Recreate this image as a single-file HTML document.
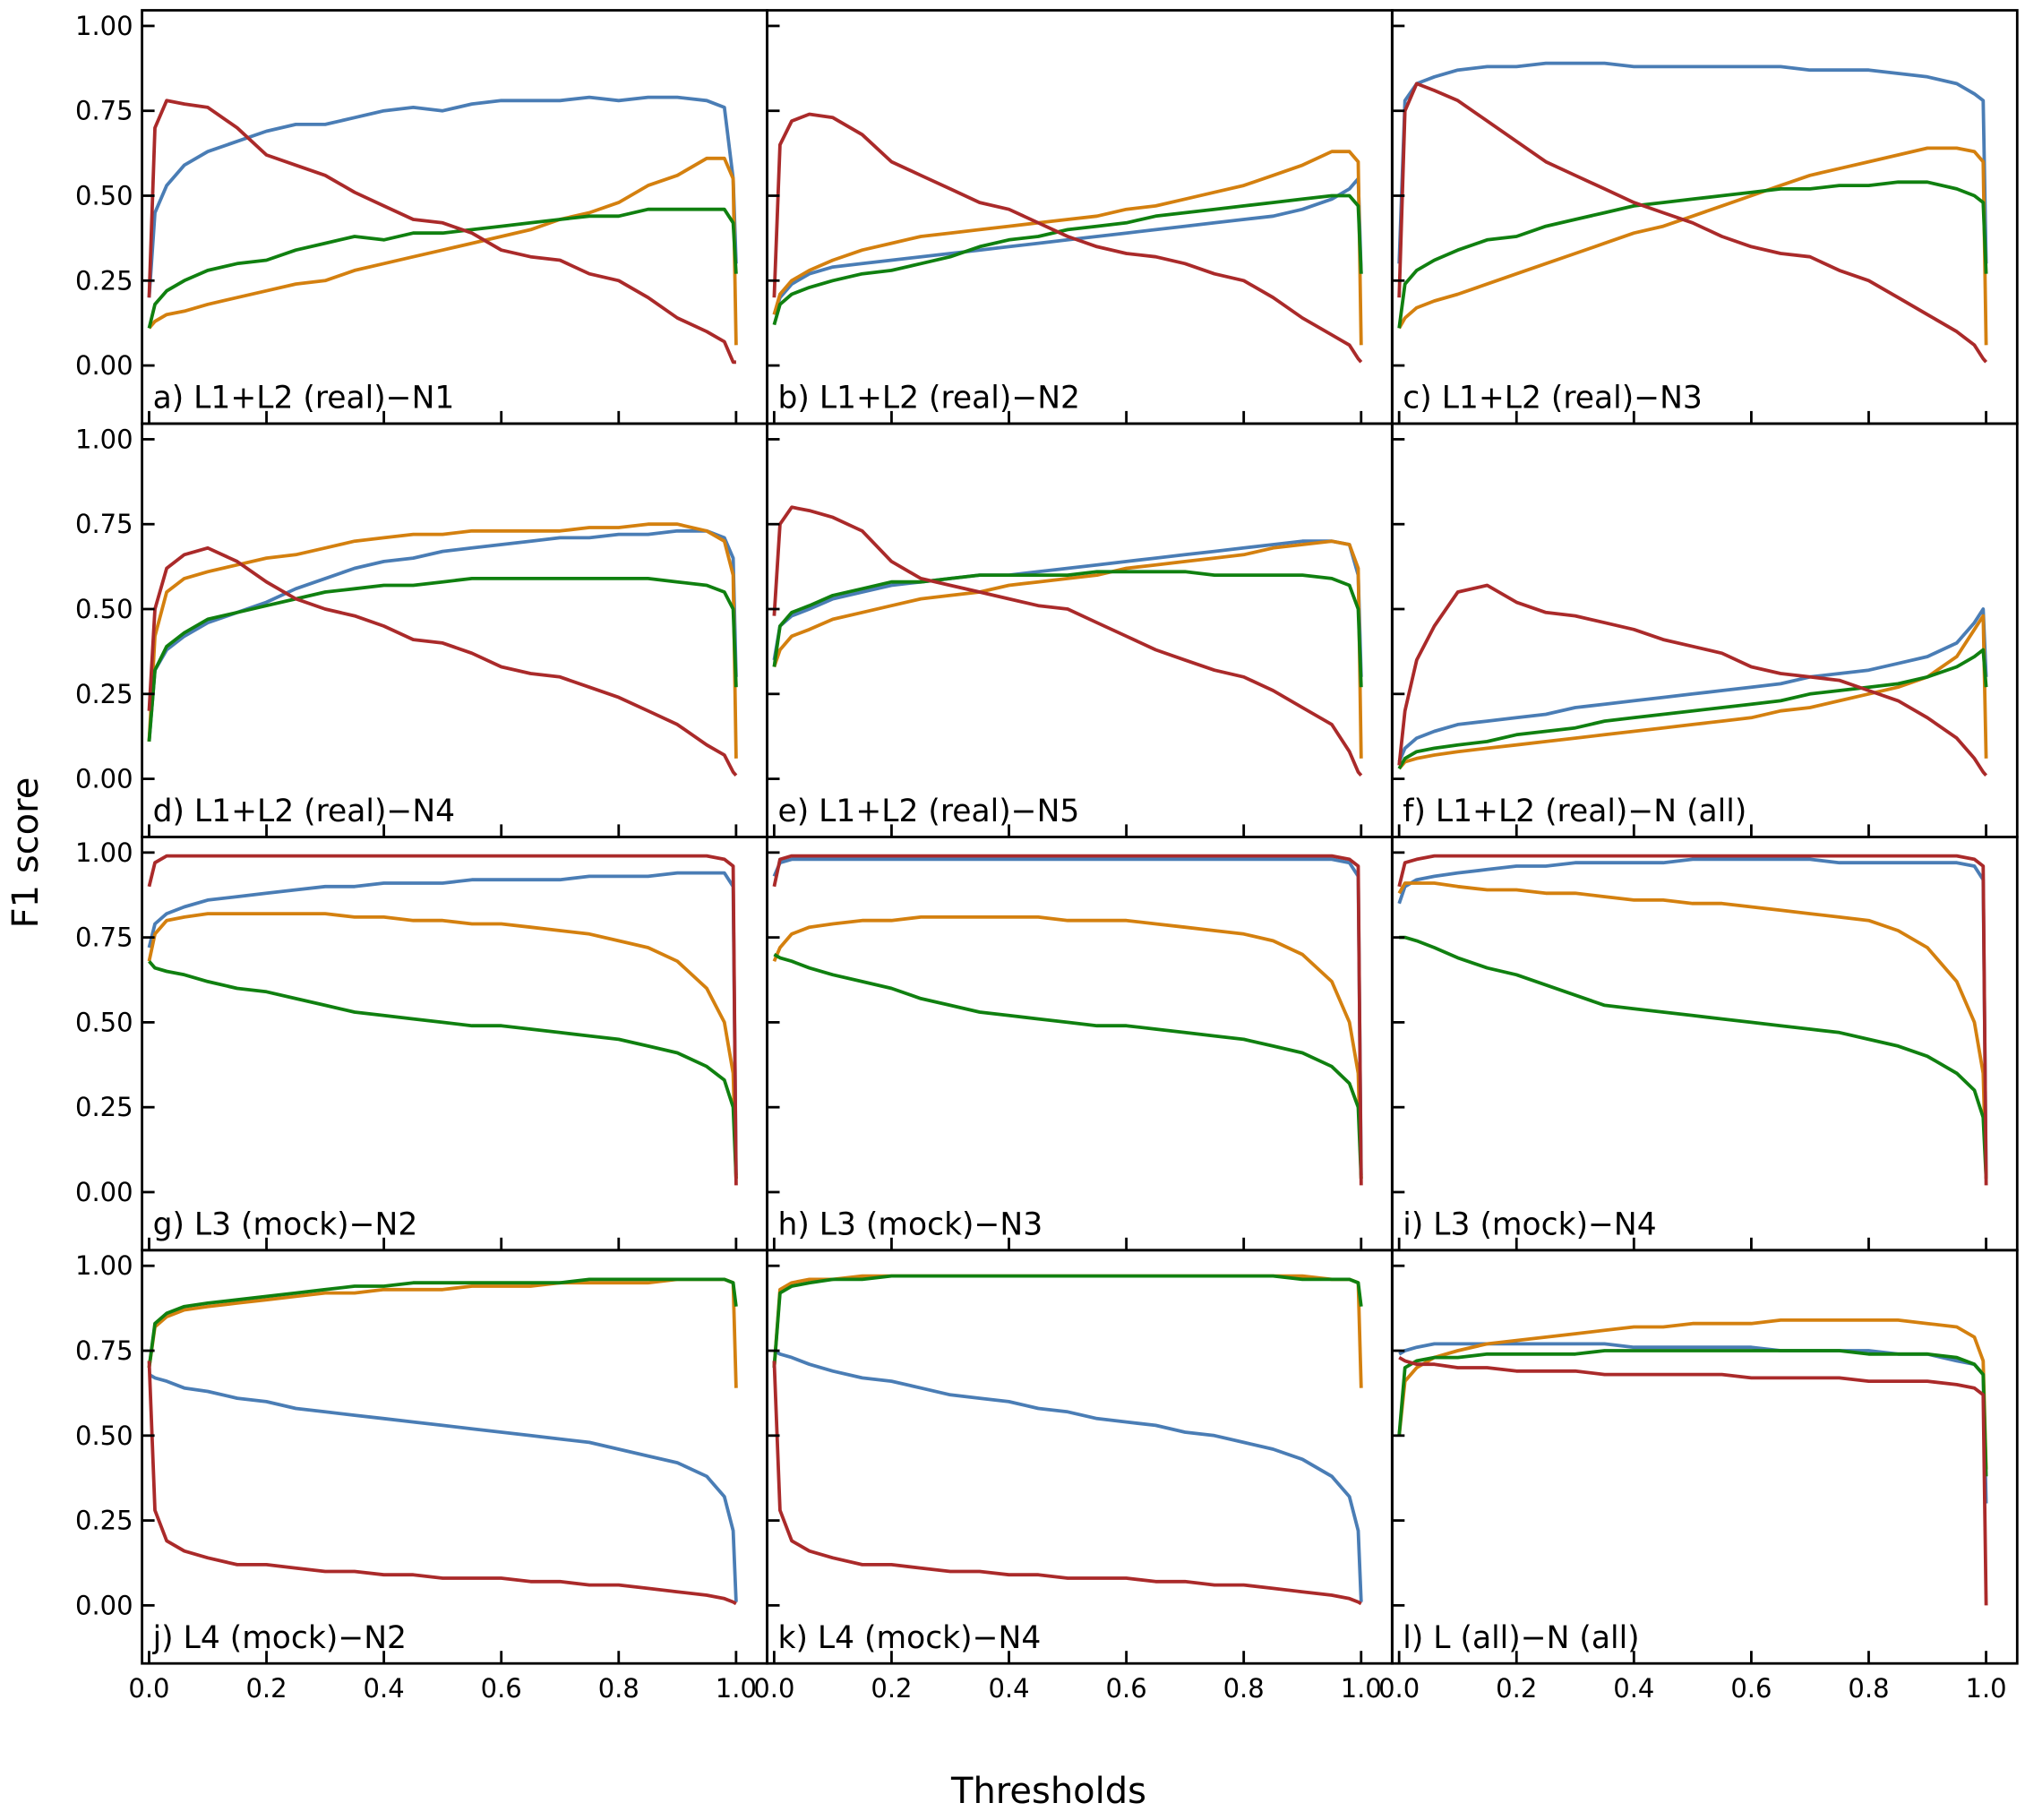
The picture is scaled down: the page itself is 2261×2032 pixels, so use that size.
<!DOCTYPE html>
<html><head><meta charset="utf-8">
<style>
html,body{margin:0;padding:0;background:#fff;}
svg{display:block;font-family:"DejaVu Sans","Liberation Sans",sans-serif;}
</style></head>
<body>
<svg id="chart" width="2261" height="2032" viewBox="0 0 2261 2032" xmlns="http://www.w3.org/2000/svg">
<text x="0" y="0" transform="translate(42,952) rotate(-90)" text-anchor="middle" font-size="40">F1 score</text>
<text x="1171" y="2013" text-anchor="middle" font-size="40">Thresholds</text>
</svg>
<script>
const thresholds=[0,.01,.03,.06,.1,.15,.2,.25,.3,.35,.4,.45,.5,.55,.6,.65,.7,.75,.8,.85,.9,.95,.98,.995,1];
const panelTitles=["a) L1+L2 (real)\u2212N1","b) L1+L2 (real)\u2212N2","c) L1+L2 (real)\u2212N3","d) L1+L2 (real)\u2212N4","e) L1+L2 (real)\u2212N5","f) L1+L2 (real)\u2212N (all)","g) L3 (mock)\u2212N2","h) L3 (mock)\u2212N3","i) L3 (mock)\u2212N4","j) L4 (mock)\u2212N2","k) L4 (mock)\u2212N4","l) L (all)\u2212N (all)"];
const yTicks=[0,0.25,0.5,0.75,1.0];
const yTickLabels=["0.00","0.25","0.50","0.75","1.00"];
const xTicks=[0,0.2,0.4,0.6,0.8,1.0];
const xTickLabels=["0.0","0.2","0.4","0.6","0.8","1.0"];
const seriesColors=["#4a7db5","#d4800f","#108010","#aa2a2a"];
const seriesNames=["blue","orange","green","red"];
// panel a
const aBlue=[.2,.45,.53,.59,.63,.66,.69,.71,.71,.73,.75,.76,.75,.77,.78,.78,.78,.79,.78,.79,.79,.78,.76,.55,.3];
const aOrange=[.11,.13,.15,.16,.18,.20,.22,.24,.25,.28,.30,.32,.34,.36,.38,.40,.43,.45,.48,.53,.56,.61,.61,.55,.06];
const aGreen=[.11,.18,.22,.25,.28,.30,.31,.34,.36,.38,.37,.39,.39,.40,.41,.42,.43,.44,.44,.46,.46,.46,.46,.42,.27];
const aRed=[.2,.70,.78,.77,.76,.70,.62,.59,.56,.51,.47,.43,.42,.39,.34,.32,.31,.27,.25,.20,.14,.10,.07,.01,.01];
// panel b
const bBlue=[.15,.20,.24,.27,.29,.30,.31,.32,.33,.34,.35,.36,.37,.38,.39,.40,.41,.42,.43,.44,.46,.49,.52,.55,.27];
const bOrange=[.15,.21,.25,.28,.31,.34,.36,.38,.39,.40,.41,.42,.43,.44,.46,.47,.49,.51,.53,.56,.59,.63,.63,.60,.06];
const bGreen=[.12,.18,.21,.23,.25,.27,.28,.30,.32,.35,.37,.38,.40,.41,.42,.44,.45,.46,.47,.48,.49,.50,.50,.47,.27];
const bRed=[.2,.65,.72,.74,.73,.68,.60,.56,.52,.48,.46,.42,.38,.35,.33,.32,.30,.27,.25,.20,.14,.09,.06,.02,.01];
// panel c
const cBlue=[.3,.78,.83,.85,.87,.88,.88,.89,.89,.89,.88,.88,.88,.88,.88,.88,.87,.87,.87,.86,.85,.83,.80,.78,.3];
const cOrange=[.11,.14,.17,.19,.21,.24,.27,.30,.33,.36,.39,.41,.44,.47,.50,.53,.56,.58,.60,.62,.64,.64,.63,.60,.06];
const cGreen=[.11,.24,.28,.31,.34,.37,.38,.41,.43,.45,.47,.48,.49,.50,.51,.52,.52,.53,.53,.54,.54,.52,.50,.48,.27];
const cRed=[.2,.75,.83,.81,.78,.72,.66,.60,.56,.52,.48,.45,.42,.38,.35,.33,.32,.28,.25,.20,.15,.10,.06,.02,.01];
// panel d
const dBlue=[.11,.32,.38,.42,.46,.49,.52,.56,.59,.62,.64,.65,.67,.68,.69,.70,.71,.71,.72,.72,.73,.73,.71,.65,.3];
const dOrange=[.11,.42,.55,.59,.61,.63,.65,.66,.68,.70,.71,.72,.72,.73,.73,.73,.73,.74,.74,.75,.75,.73,.70,.6,.06];
const dGreen=[.11,.32,.39,.43,.47,.49,.51,.53,.55,.56,.57,.57,.58,.59,.59,.59,.59,.59,.59,.59,.58,.57,.55,.5,.27];
const dRed=[.2,.5,.62,.66,.68,.64,.58,.53,.50,.48,.45,.41,.40,.37,.33,.31,.30,.27,.24,.20,.16,.10,.07,.02,.01];
// panel e
const eBlue=[.35,.45,.48,.50,.53,.55,.57,.58,.59,.60,.60,.61,.62,.63,.64,.65,.66,.67,.68,.69,.70,.70,.69,.6,.3];
const eOrange=[.33,.38,.42,.44,.47,.49,.51,.53,.54,.55,.57,.58,.59,.60,.62,.63,.64,.65,.66,.68,.69,.70,.69,.62,.06];
const eGreen=[.33,.45,.49,.51,.54,.56,.58,.58,.59,.60,.60,.60,.60,.61,.61,.61,.61,.60,.60,.60,.60,.59,.57,.5,.27];
const eRed=[.48,.75,.80,.79,.77,.73,.64,.59,.57,.55,.53,.51,.50,.46,.42,.38,.35,.32,.30,.26,.21,.16,.08,.02,.01];
// panel f
const fBlue=[.05,.09,.12,.14,.16,.17,.18,.19,.21,.22,.23,.24,.25,.26,.27,.28,.30,.31,.32,.34,.36,.40,.46,.5,.3];
const fOrange=[.03,.05,.06,.07,.08,.09,.10,.11,.12,.13,.14,.15,.16,.17,.18,.20,.21,.23,.25,.27,.30,.36,.44,.48,.06];
const fGreen=[.03,.06,.08,.09,.10,.11,.13,.14,.15,.17,.18,.19,.20,.21,.22,.23,.25,.26,.27,.28,.30,.33,.36,.38,.27];
const fRed=[.04,.2,.35,.45,.55,.57,.52,.49,.48,.46,.44,.41,.39,.37,.33,.31,.30,.29,.26,.23,.18,.12,.06,.02,.01];
// panel g
const gBlue=[.72,.79,.82,.84,.86,.87,.88,.89,.90,.90,.91,.91,.91,.92,.92,.92,.92,.93,.93,.93,.94,.94,.94,.90,.05];
const gOrange=[.68,.76,.80,.81,.82,.82,.82,.82,.82,.81,.81,.80,.80,.79,.79,.78,.77,.76,.74,.72,.68,.60,.50,.35,.04];
const gGreen=[.68,.66,.65,.64,.62,.60,.59,.57,.55,.53,.52,.51,.50,.49,.49,.48,.47,.46,.45,.43,.41,.37,.33,.25,.04];
const gRed=[.90,.97,.99,.99,.99,.99,.99,.99,.99,.99,.99,.99,.99,.99,.99,.99,.99,.99,.99,.99,.99,.99,.98,.96,.02];
// panel h
const hBlue=[.93,.97,.98,.98,.98,.98,.98,.98,.98,.98,.98,.98,.98,.98,.98,.98,.98,.98,.98,.98,.98,.98,.97,.93,.05];
const hOrange=[.68,.72,.76,.78,.79,.80,.80,.81,.81,.81,.81,.81,.80,.80,.80,.79,.78,.77,.76,.74,.70,.62,.50,.35,.04];
const hGreen=[.70,.69,.68,.66,.64,.62,.60,.57,.55,.53,.52,.51,.50,.49,.49,.48,.47,.46,.45,.43,.41,.37,.32,.25,.04];
const hRed=[.90,.98,.99,.99,.99,.99,.99,.99,.99,.99,.99,.99,.99,.99,.99,.99,.99,.99,.99,.99,.99,.99,.98,.96,.02];
// panel i
const iBlue=[.85,.90,.92,.93,.94,.95,.96,.96,.97,.97,.97,.97,.98,.98,.98,.98,.98,.97,.97,.97,.97,.97,.96,.92,.05];
const iOrange=[.88,.91,.91,.91,.90,.89,.89,.88,.88,.87,.86,.86,.85,.85,.84,.83,.82,.81,.80,.77,.72,.62,.50,.35,.04];
const iGreen=[.75,.75,.74,.72,.69,.66,.64,.61,.58,.55,.54,.53,.52,.51,.50,.49,.48,.47,.45,.43,.40,.35,.30,.22,.04];
const iRed=[.90,.97,.98,.99,.99,.99,.99,.99,.99,.99,.99,.99,.99,.99,.99,.99,.99,.99,.99,.99,.99,.99,.98,.96,.02];
// panel j
const jBlue=[.68,.67,.66,.64,.63,.61,.60,.58,.57,.56,.55,.54,.53,.52,.51,.50,.49,.48,.46,.44,.42,.38,.32,.22,.01];
const jOrange=[.70,.82,.85,.87,.88,.89,.90,.91,.92,.92,.93,.93,.93,.94,.94,.94,.95,.95,.95,.95,.96,.96,.96,.95,.64];
const jGreen=[.70,.83,.86,.88,.89,.90,.91,.92,.93,.94,.94,.95,.95,.95,.95,.95,.95,.96,.96,.96,.96,.96,.96,.95,.88];
const jRed=[.72,.28,.19,.16,.14,.12,.12,.11,.10,.10,.09,.09,.08,.08,.08,.07,.07,.06,.06,.05,.04,.03,.02,.01,.005];
// panel k
const kBlue=[.75,.74,.73,.71,.69,.67,.66,.64,.62,.61,.60,.58,.57,.55,.54,.53,.51,.50,.48,.46,.43,.38,.32,.22,.01];
const kOrange=[.70,.93,.95,.96,.96,.97,.97,.97,.97,.97,.97,.97,.97,.97,.97,.97,.97,.97,.97,.97,.97,.96,.96,.95,.64];
const kGreen=[.70,.92,.94,.95,.96,.96,.97,.97,.97,.97,.97,.97,.97,.97,.97,.97,.97,.97,.97,.97,.96,.96,.96,.95,.88];
const kRed=[.72,.28,.19,.16,.14,.12,.12,.11,.10,.10,.09,.09,.08,.08,.08,.07,.07,.06,.06,.05,.04,.03,.02,.01,.005];
// panel l
const lBlue=[.74,.75,.76,.77,.77,.77,.77,.77,.77,.77,.76,.76,.76,.76,.76,.75,.75,.75,.75,.74,.74,.72,.71,.68,.3];
const lOrange=[.5,.66,.70,.73,.75,.77,.78,.79,.80,.81,.82,.82,.83,.83,.83,.84,.84,.84,.84,.84,.83,.82,.79,.72,.4];
const lGreen=[.5,.70,.72,.73,.73,.74,.74,.74,.74,.75,.75,.75,.75,.75,.75,.75,.75,.75,.74,.74,.74,.73,.71,.68,.38];
const lRed=[.73,.72,.71,.71,.70,.70,.69,.69,.69,.68,.68,.68,.68,.68,.67,.67,.67,.67,.66,.66,.66,.65,.64,.62,0];

const panelSeries=[[aBlue,aOrange,aGreen,aRed],[bBlue,bOrange,bGreen,bRed],[cBlue,cOrange,cGreen,cRed],
[dBlue,dOrange,dGreen,dRed],[eBlue,eOrange,eGreen,eRed],[fBlue,fOrange,fGreen,fRed],
[gBlue,gOrange,gGreen,gRed],[hBlue,hOrange,hGreen,hRed],[iBlue,iOrange,iGreen,iRed],
[jBlue,jOrange,jGreen,jRed],[kBlue,kOrange,kGreen,kRed],[lBlue,lOrange,lGreen,lRed]];

const NS="http://www.w3.org/2000/svg";
const svg=document.getElementById('chart');
const colLeft=[158.6,856.5,1554.3], colW=698;
const rowTop=[11.5,473,934.4,1395.8], rowH=461.4;
const X0=-0.012,X1=1.053,Y0=-0.171,Y1=1.046;
function mk(tag,attrs,parent){const e=document.createElementNS(NS,tag);for(const k in attrs)e.setAttribute(k,attrs[k]);(parent||svg).appendChild(e);return e;}

panelTitles.forEach((title,p)=>{
  const r=Math.floor(p/3), c=p%3;
  const L=colLeft[c], T=rowTop[r];
  const sx=v=>L+(v-X0)/(X1-X0)*colW;
  const sy=v=>T+(Y1-v)/(Y1-Y0)*rowH;
  const g=mk('g',{});
  
  
  const cid='clip'+p;
  const cp=mk('clipPath',{id:cid},g);
  mk('rect',{x:L,y:T,width:colW,height:rowH},cp);
  const lines=mk('g',{'clip-path':'url(#'+cid+')'},g);
  panelSeries[p].forEach((vals,s)=>{
    const d=vals.map((v,i)=>(i?'L':'M')+sx(thresholds[i]).toFixed(1)+','+sy(v).toFixed(1)).join('');
    const path=mk('path',{d:d,fill:'none',stroke:seriesColors[s],'stroke-width':3.8,'stroke-linejoin':'round'},lines);
    
    
  });
  yTicks.forEach((v,i)=>{
    const y=sy(v);
    mk('line',{x1:L,x2:L+14,y1:y,y2:y,stroke:'#000','stroke-width':2.8},g);
    if(c===0){
      const t=mk('text',{x:L-10,y:y+10,'text-anchor':'end','font-size':29},g);
      
      
      t.textContent=yTickLabels[i];
    }
  });
  xTicks.forEach((v,i)=>{
    const x=sx(v);
    mk('line',{x1:x,x2:x,y1:T+rowH,y2:T+rowH-14,stroke:'#000','stroke-width':2.8},g);
    if(r===3){
      const t=mk('text',{x:x,y:T+rowH+38,'text-anchor':'middle','font-size':29},g);
      
      
      t.textContent=xTickLabels[i];
    }
  });
  const lab=mk('text',{x:L+12,y:T+444,'font-size':34.5},g);
  
  
  lab.textContent=title;
  mk('rect',{x:L,y:T,width:colW,height:rowH,fill:'none',stroke:'#000','stroke-width':2.8},g);
});
</script>
</body></html>
